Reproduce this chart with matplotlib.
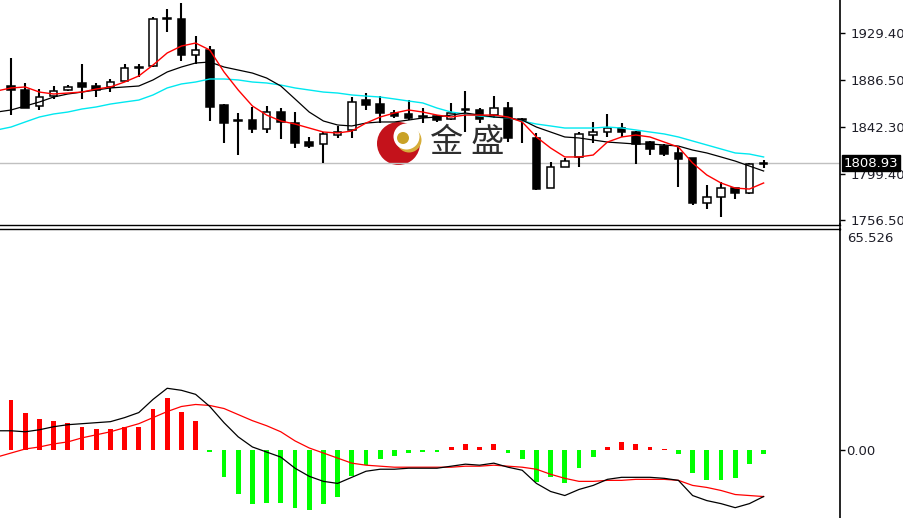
import numpy as np
import matplotlib
matplotlib.use('Agg')
import matplotlib.pyplot as plt
from matplotlib.patches import Rectangle, Circle, Wedge
from matplotlib.lines import Line2D
import matplotlib.transforms as mtransforms

# ---------------- data ----------------
opens = [1880.6, 1876.9, 1862.1, 1871.3, 1876.9, 1883.4, 1880.6, 1879.7, 1885.2, 1897.3,
         1899.1, 1942.6, 1942.6, 1909.3, 1913.9, 1863.0, 1848.2, 1849.1, 1840.8, 1856.5,
         1846.3, 1828.7, 1826.9, 1835.2, 1839.9, 1867.6, 1863.9, 1855.6, 1854.7, 1851.9,
         1852.8, 1850.0, 1858.4, 1858.4, 1853.7, 1860.2, 1849.1, 1832.5, 1786.1, 1805.6,
         1814.9, 1835.2, 1838.0, 1841.7, 1838.0, 1828.7, 1825.0, 1818.6, 1814.0, 1772.3,
         1777.8, 1786.1, 1781.5, 1808.4]
highs = [1906.5, 1883.4, 1877.8, 1880.6, 1881.5, 1901.0, 1883.4, 1887.1, 1901.0, 1901.0,
         1944.5, 1951.9, 1957.5, 1926.9, 1917.6, 1863.9, 1855.6, 1861.2, 1862.1, 1860.2,
         1856.5, 1833.4, 1838.0, 1843.6, 1870.4, 1874.1, 1871.3, 1858.4, 1867.6, 1860.2,
         1853.7, 1864.9, 1876.0, 1860.2, 1871.3, 1865.8, 1851.0, 1837.1, 1810.2, 1814.0,
         1838.0, 1847.3, 1854.7, 1846.3, 1838.9, 1829.7, 1826.9, 1824.1, 1814.0, 1788.9,
         1791.7, 1786.1, 1809.3, 1812.1]
lows = [1853.7, 1860.2, 1858.4, 1868.6, 1876.0, 1868.6, 1870.4, 1875.0, 1884.3, 1888.9,
        1898.2, 1930.6, 1903.7, 1901.0, 1848.2, 1827.8, 1816.7, 1837.1, 1837.1, 1831.5,
        1823.2, 1823.2, 1809.3, 1832.5, 1832.5, 1858.4, 1846.3, 1851.0, 1849.1, 1846.3,
        1847.3, 1849.1, 1838.0, 1846.3, 1851.0, 1828.7, 1827.8, 1784.3, 1786.1, 1805.6,
        1805.6, 1827.8, 1833.4, 1833.4, 1808.4, 1816.7, 1815.8, 1787.1, 1770.4, 1766.7,
        1759.3, 1776.0, 1780.6, 1804.7]
closes = [1876.9, 1860.2, 1870.4, 1876.0, 1879.7, 1879.7, 1876.9, 1884.3, 1897.3, 1897.6,
          1942.6, 1942.3, 1909.3, 1913.9, 1861.2, 1846.3, 1848.0, 1840.8, 1856.5, 1847.3,
          1827.8, 1825.0, 1836.2, 1838.0, 1865.8, 1863.0, 1855.6, 1852.8, 1851.0, 1851.7,
          1849.1, 1855.6, 1858.6, 1850.0, 1860.2, 1832.5, 1849.3, 1785.2, 1805.6, 1811.1,
          1836.2, 1838.0, 1841.7, 1838.0, 1826.9, 1822.3, 1817.6, 1813.0, 1772.3, 1777.8,
          1786.1, 1781.5, 1808.4, 1808.93]

# moving averages (index 0 is the bar just off the left edge)
ma_fast = [1876.0, 1878.8, 1879.7, 1875.0, 1873.2, 1874.1, 1875.0, 1877.8, 1879.7, 1884.3,
           1889.9, 1900.0, 1911.2, 1917.6, 1920.4, 1913.9, 1893.6, 1876.9, 1862.1, 1853.7,
           1848.2, 1845.4, 1841.7, 1838.0, 1837.1, 1838.9, 1846.3, 1851.9, 1855.6, 1858.4,
           1856.5, 1853.7, 1851.9, 1853.7, 1853.7, 1853.7, 1851.9, 1847.3, 1833.4, 1823.2,
           1814.9, 1814.9, 1816.7, 1828.7, 1833.4, 1835.2, 1833.4, 1828.7, 1824.1, 1809.3,
           1798.2, 1790.8, 1786.1, 1785.2, 1790.8]
ma_mid = [1856.5, 1858.4, 1862.1, 1865.8, 1870.4, 1873.2, 1875.0, 1876.9, 1878.8, 1879.7,
          1880.6, 1886.2, 1893.6, 1898.2, 1901.9, 1902.8, 1898.2, 1895.4, 1892.6, 1888.0,
          1880.6, 1868.6, 1856.5, 1848.2, 1844.5, 1843.6, 1846.3, 1847.3, 1847.3, 1849.1,
          1851.0, 1851.9, 1853.7, 1855.6, 1853.7, 1851.9, 1851.0, 1849.1, 1842.6, 1838.0,
          1833.4, 1832.5, 1830.6, 1828.7, 1827.8, 1826.9, 1826.9, 1826.0, 1825.0, 1821.3,
          1818.6, 1814.9, 1811.1, 1806.5, 1801.9]
ma_slow = [1839.9, 1842.6, 1847.3, 1851.9, 1854.7, 1856.5, 1859.3, 1861.2, 1863.9, 1865.8,
           1867.6, 1872.3, 1878.8, 1882.5, 1884.3, 1887.1, 1887.1, 1886.2, 1884.3, 1883.4,
           1881.5, 1878.8, 1876.9, 1875.0, 1874.1, 1872.3, 1871.3, 1870.4, 1868.6, 1866.7,
           1864.9, 1860.2, 1856.5, 1854.7, 1852.8, 1851.9, 1851.0, 1848.2, 1845.4, 1843.6,
           1841.7, 1841.7, 1841.7, 1842.6, 1841.7, 1839.9, 1838.0, 1836.2, 1833.4, 1829.7,
           1826.0, 1822.3, 1818.6, 1817.6, 1814.9]

macd_hist = [14.7, 11.1, 9.3, 8.7, 8.1, 6.9, 6.3, 6.3, 6.9, 6.9,
             12.3, 15.3, 11.4, 8.7, -0.5, -8.1, -12.9, -15.9, -15.6, -15.6,
             -17.1, -17.7, -15.9, -13.8, -7.8, -4.5, -2.7, -1.8, -0.9, -0.5,
             -0.5, 1.0, 1.8, 1.0, 1.8, -1.0, -2.7, -9.6, -8.1, -9.9,
             -5.4, -2.1, 1.0, 2.5, 1.8, 1.0, 0.3, -1.3, -6.9, -9.0,
             -9.0, -8.4, -4.2, -1.3]
macd_line = [5.7, 5.7, 5.4, 6.0, 6.9, 7.5, 7.8, 8.1, 8.4, 9.6,
             11.1, 15.0, 18.3, 17.7, 16.5, 12.9, 8.1, 3.9, 0.9, -0.6,
             -2.1, -5.4, -7.8, -9.3, -9.9, -8.1, -6.3, -5.7, -5.7, -5.4,
             -5.4, -5.4, -4.8, -4.2, -4.5, -3.9, -5.1, -6.0, -9.9, -12.3,
             -13.5, -11.7, -10.5, -8.7, -8.1, -8.1, -8.1, -8.4, -9.0, -13.5,
             -15.0, -15.9, -17.1, -15.9, -13.8]
macd_signal = [-2.1, -0.9, 0.3, 0.9, 1.8, 2.4, 3.6, 4.5, 5.4, 6.6,
               7.8, 9.6, 11.4, 12.9, 13.5, 13.2, 12.3, 10.5, 8.7, 7.2,
               5.4, 2.7, 0.6, -0.9, -2.4, -3.9, -4.5, -4.8, -5.1, -5.1,
               -5.1, -5.1, -5.1, -4.8, -4.8, -4.5, -4.8, -5.1, -5.7, -7.2,
               -8.4, -9.3, -9.3, -9.0, -9.0, -8.7, -8.7, -8.7, -9.0, -10.5,
               -11.1, -12.0, -13.2, -13.5, -13.8]

price_ticks = [1929.40, 1886.50, 1842.30, 1799.40, 1756.50]
price_labels = ['1929.40', '1886.50', '1842.30', '1799.40', '1756.50']
current_price = 1808.93
macd_max = 65.526
watermark = ['金', '盛']

# ---------------- figure ----------------
W, H = 904, 518
fig = plt.figure(figsize=(W / 100, H / 100), dpi=100, facecolor='white')

# watermark logo (drawn first, behind the chart)
axl = fig.add_axes([375 / W, (H - 166) / H, 130 / W, 46 / H])
axl.set_xlim(0, 130)
axl.set_ylim(0, 46)
axl.axis('off')
axl.add_patch(Circle((23.5, 22.5), 21.5, fc='#c4121b', ec='none'))
axl.add_patch(Circle((34.0, 26.0), 12.5, fc='#d6ad3a', ec='none'))
axl.add_patch(Circle((31.5, 29.5), 13.0, fc='white', ec='none'))
axl.add_patch(Circle((28.0, 28.0), 6.0, fc='#c9a227', ec='none'))
for k, ch in enumerate(watermark):
    axl.text(71 + 41 * k, 23, ch, fontsize=24,
             family=['Noto Sans CJK SC', 'DejaVu Sans'],
             color='#2e2e2e', ha='center', va='center')

ax1 = fig.add_axes([0, (H - 225) / H, 840 / W, 225 / H])
ax2 = fig.add_axes([0, 0, 840 / W, 289 / H])
for ax in (ax1, ax2):
    ax.patch.set_alpha(0)
    ax.set_xlim(0.225, 59.38)
    ax.set_xticks([])
    ax.spines['left'].set_visible(False)
    ax.spines['right'].set_color('black')
    ax.spines['right'].set_linewidth(1.2)
ax1.spines['top'].set_visible(False)
ax1.spines['bottom'].set_color('black')
ax1.spines['bottom'].set_linewidth(1.0)
ax2.spines['bottom'].set_visible(False)
ax2.spines['top'].set_color('black')
ax2.spines['top'].set_linewidth(1.0)

ax1.set_ylim(1751.9, 1960.24)
ax2.set_ylim(-macd_max * 68 / 221, macd_max)

# current price line
ax1.axhline(current_price, color='#c0c0c0', lw=1.0, zorder=1)

# candles
idx = np.arange(1, len(opens) + 1)
bw = 0.54
for i, o, h, l, c in zip(idx, opens, highs, lows, closes):
    ax1.vlines(i, l, h, color='black', lw=1.5, zorder=2)
    bottom = min(o, c)
    height = max(abs(c - o), 0.9)
    fc = 'white' if c - o > 0.5 else 'black'
    ax1.add_patch(Rectangle((i - bw / 2, bottom), bw, height, fc=fc, ec='black',
                            lw=1.1, zorder=3))

ma_idx = np.arange(0, len(ma_fast))
ax1.plot(ma_idx, ma_slow, color='#00e8f0', lw=1.0, zorder=4)
ax1.plot(ma_idx, ma_mid, color='black', lw=0.9, zorder=4)
ax1.plot(ma_idx, ma_fast, color='#ff0000', lw=1.0, zorder=4)

ax1.yaxis.tick_right()
ax1.set_yticks(price_ticks)
ax1.set_yticklabels(price_labels)
ax1.tick_params(axis='y', length=3.5, width=1, pad=4, labelsize=9.5,
                labelcolor='#1e1e28', color='black')

tr1 = mtransforms.blended_transform_factory(ax1.transAxes, ax1.transData)
ax1.text(1.004, current_price, '%.2f' % current_price, transform=tr1, color='white',
         fontsize=9.5, va='center', ha='left', clip_on=False, zorder=20,
         bbox=dict(boxstyle='square,pad=0.12', fc='black', ec='black'))

# MACD panel
hist_colors = ['#ff0000' if v > 0 else '#00ff00' for v in macd_hist]
ax2.bar(idx, macd_hist, width=0.33, color=hist_colors, zorder=2)
ax2.plot(ma_idx, macd_signal, color='#ff0000', lw=0.9, zorder=3)
ax2.plot(ma_idx, macd_line, color='black', lw=0.9, zorder=3)

ax2.yaxis.tick_right()
ax2.set_yticks([0])
ax2.set_yticklabels(['0.00'])
ax2.tick_params(axis='y', length=3.5, width=1, pad=1, labelsize=9.5,
                labelcolor='#1e1e28', color='black')
tr2 = mtransforms.blended_transform_factory(ax2.transAxes, ax2.transData)
off = mtransforms.ScaledTranslation(0, -3 / 100, fig.dpi_scale_trans)
ax2.text(1.008, macd_max, '%.3f' % macd_max, transform=tr2 + off, color='#1e1e28',
         fontsize=9.5, va='top', ha='left', clip_on=False)

# right scale line through the panel gap
fig.add_artist(Line2D([840 / W, 840 / W], [(H - 230) / H, (H - 224) / H],
                      color='black', lw=1.2, transform=fig.transFigure))

fig.savefig('out.png', dpi=100, facecolor='white')
